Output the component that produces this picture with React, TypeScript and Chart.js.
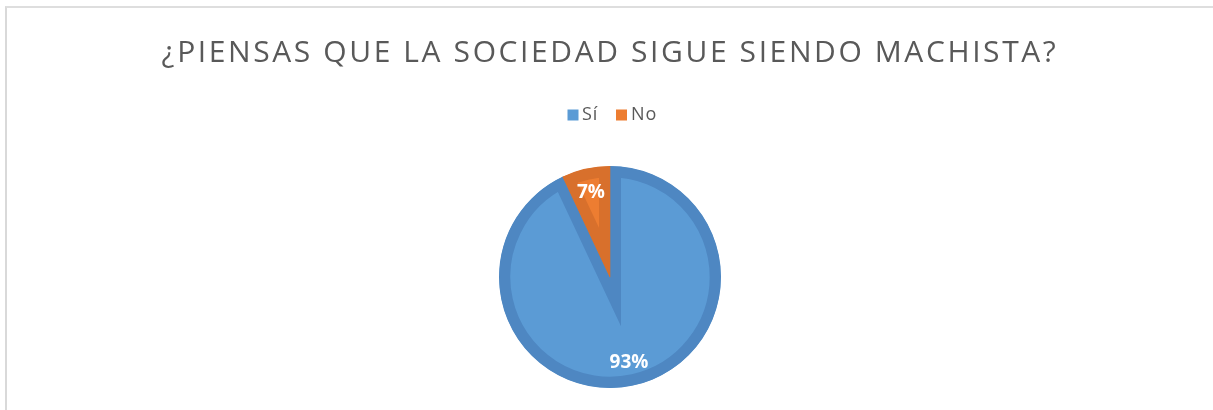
import React, { useEffect, useRef } from "react";
import { Chart, registerables } from "chart.js";

Chart.register(...registerables);

const titleText = "¿PIENSAS QUE LA SOCIEDAD SIGUE SIENDO MACHISTA?";
const categories = ["Sí", "No"];
const percentValues = [93, 7];
const fillColors = ["#5b9bd5", "#ed7d31"];
const edgeColors = ["#4e87c2", "#d8702c"];

const spacingPlugin = {
  id: "titleSpacing",
  beforeDraw(chart: any) {
    (chart.ctx as any).letterSpacing = "2.6px";
  },
  beforeDatasetsDraw(chart: any) {
    (chart.ctx as any).letterSpacing = "0px";
  },
};

const legendPlugin = {
  id: "spacedLegend",
  afterDraw(chart: any) {
    const ctx = chart.ctx;
    const colors = chart.data.datasets[0].backgroundColor as string[];
    const labels = chart.data.labels as string[];
    const boxX = [567.5, 616];
    const textX = [582, 631];
    ctx.save();
    (ctx as any).letterSpacing = "1px";
    ctx.font = "18px 'Open Sans'";
    ctx.textAlign = "left";
    ctx.textBaseline = "middle";
    labels.forEach((lab, i) => {
      ctx.fillStyle = colors[i];
      ctx.fillRect(boxX[i], 109.5, 11, 11);
      ctx.fillStyle = "#595959";
      ctx.fillText(lab, textX[i], 114.5);
    });
    (ctx as any).letterSpacing = "0px";
    ctx.restore();
  },
};

const sliceLabelPlugin = {
  id: "sliceLabels",
  afterDatasetsDraw(chart: any) {
    const ctx = chart.ctx;
    const meta = chart.getDatasetMeta(0);
    ctx.save();
    ctx.fillStyle = "#ffffff";
    ctx.font = "bold 19px 'Open Sans'";
    ctx.textAlign = "center";
    ctx.textBaseline = "middle";
    meta.data.forEach((arc: any, i: number) => {
      const { x, y, startAngle, endAngle, outerRadius } = arc.getProps(
        ["x", "y", "startAngle", "endAngle", "outerRadius"],
        true
      );
      const mid = (startAngle + endAngle) / 2;
      const d = outerRadius * 0.785;
      ctx.fillText(
        percentValues[i] + "%",
        x + Math.cos(mid) * d,
        y + Math.sin(mid) * d + 1
      );
    });
    ctx.restore();
  },
};

export default function App() {
  const canvasRef = useRef<HTMLCanvasElement | null>(null);

  useEffect(() => {
    if (!canvasRef.current) return;
    const chart = new Chart(canvasRef.current, {
      type: "pie",
      data: {
        labels: categories,
        datasets: [
          {
            data: percentValues,
            backgroundColor: fillColors,
            borderColor: edgeColors,
            borderWidth: 11,
            borderAlign: "inner",
            borderJoinStyle: "miter",
          } as any,
        ],
      },
      options: {
        animation: false,
        responsive: false,
        layout: { padding: { left: 7, right: 0, top: 0, bottom: 22 } },
        plugins: {
          title: {
            display: true,
            text: titleText,
            color: "#595959",
            font: { family: "'Open Sans'", size: 30, weight: "normal", lineHeight: 1.2 },
            padding: { top: 35, bottom: 95 },
          },
          legend: { display: false },
          tooltip: { enabled: false },
        },
      } as any,
      plugins: [spacingPlugin, legendPlugin, sliceLabelPlugin],
    });
    return () => chart.destroy();
  }, []);

  return (
    <div
      style={{
        position: "absolute",
        left: 0,
        top: 0,
        width: 1213,
        height: 410,
        overflow: "hidden",
        background: "#ffffff",
      }}
    >
      <div
        style={{
          position: "absolute",
          left: 5,
          top: 6,
          width: 1400,
          height: 600,
          borderLeft: "2px solid #d9d9d9",
          borderTop: "2px solid #dedede",
          boxSizing: "border-box",
        }}
      />
      <canvas
        ref={canvasRef}
        width={1213}
        height={410}
        style={{ position: "absolute", left: 0, top: 0, width: 1213, height: 410 }}
      />
    </div>
  );
}
